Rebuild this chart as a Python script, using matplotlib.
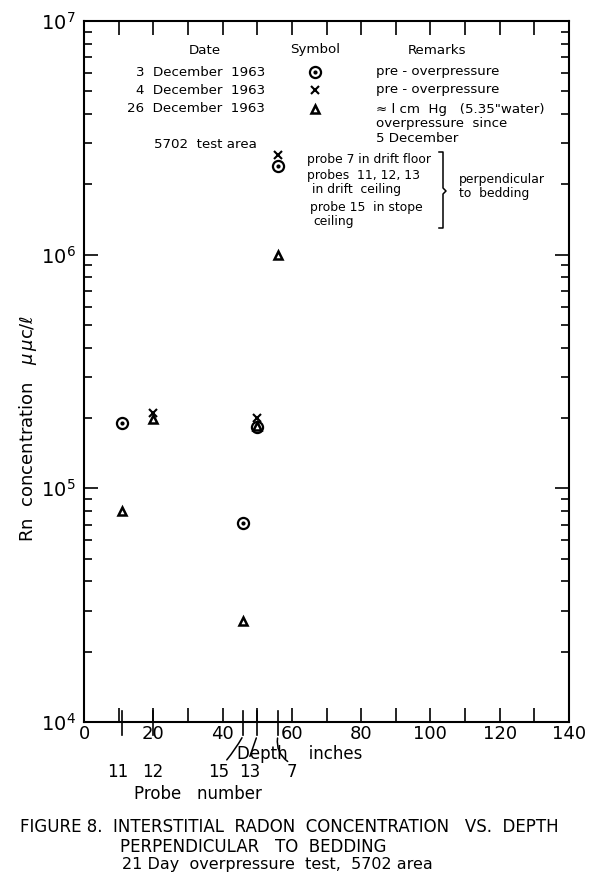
import matplotlib
matplotlib.use("Agg")
import matplotlib.pyplot as plt
from matplotlib.ticker import LogLocator, NullFormatter, FixedLocator, FixedFormatter

# ---------------- data ----------------
probe_numbers = ["11", "12", "15", "13", "7"]
probe_depths = [11, 20, 46, 50, 56]          # inches

# 3 December 1963 (circle with dot) - pre-overpressure
dec3_depth = [11, 46, 50, 56]
dec3_rn = [1.90e5, 7.1e4, 1.83e5, 2.39e6]
# 4 December 1963 (x) - pre-overpressure
dec4_depth = [20, 50, 56]
dec4_rn = [2.10e5, 2.00e5, 2.67e6]
# 26 December 1963 (triangle) - ~1 cm Hg overpressure since 5 Dec
dec26_depth = [11, 20, 46, 50, 56]
dec26_rn = [8.0e4, 1.98e5, 2.7e4, 1.85e5, 1.0e6]

x_ticks_labeled = [0, 20, 40, 60, 80, 100, 120, 140]
y_ticks = [1e4, 1e5, 1e6, 1e7]
y_tick_labels = [r"$10^4$", r"$10^5$", r"$10^6$", r"$10^7$"]

# ---------------- figure ----------------
W, H = 600, 874
fig = plt.figure(figsize=(W / 100, H / 100), dpi=100)
plt.rcParams['font.family'] = ['DejaVu Sans']

def fx(px):
    return px / W

def fy(py):
    return 1 - py / H

ax = fig.add_axes([fx(84), fy(722), fx(569) - fx(84), fy(21) - fy(722)])
ax.set_xlim(0, 140)
ax.set_ylim(1e4, 1e7)
ax.set_yscale("log")

for s in ax.spines.values():
    s.set_linewidth(1.5)

# x ticks
ax.set_xticks(x_ticks_labeled, labels=[str(v) for v in x_ticks_labeled])
ax.xaxis.set_minor_locator(FixedLocator([10, 30, 50, 70, 90, 110, 130]))
ax.tick_params(axis="x", which="both", direction="in", top=True, length=10,
               width=1.2, labelsize=13, pad=2)
# y ticks
ax.yaxis.set_major_locator(FixedLocator(y_ticks))
ax.yaxis.set_major_formatter(FixedFormatter(y_tick_labels))
ax.yaxis.set_minor_locator(LogLocator(base=10, subs=range(2, 10)))
ax.yaxis.set_minor_formatter(NullFormatter())
ax.tick_params(axis="y", which="major", direction="in", right=True, length=10,
               width=1.2, labelsize=14, pad=6)
ax.tick_params(axis="y", which="minor", direction="in", right=True, length=6,
               width=1.2)

# data
ax.plot(dec3_depth, dec3_rn, ls="none", marker="o", ms=8, mfc="white",
        mec="black", mew=1.6, zorder=3)
ax.plot(dec3_depth, dec3_rn, ls="none", marker="o", ms=2, color="black", zorder=4)
ax.plot(dec4_depth, dec4_rn, ls="none", marker="x", ms=6, color="black", mew=1.5,
        zorder=3)
ax.plot(dec26_depth, dec26_rn, ls="none", marker="^", ms=6, mfc="white",
        mec="black", mew=1.8, zorder=5)

# probe ticks crossing the depth axis
for d in probe_depths:
    ax.plot([d, d], [-0.019, 0.016], transform=ax.get_xaxis_transform(),
            color="black", lw=1.2, clip_on=False)

# probe number labels
probe_label_px = [118, 153, 219, 250, 292]
for lab, px in zip(probe_numbers, probe_label_px):
    fig.text(fx(px), fy(772), lab, ha="center", va="center", fontsize=12)

# leader lines from labels to probe ticks
axfrac_bottom = -0.019
ax.annotate("", xy=(46, axfrac_bottom), xycoords=("data", "axes fraction"),
            xytext=(225, H - 762), textcoords="figure pixels",
            arrowprops=dict(arrowstyle="-", lw=1.1, color="black",
                            connectionstyle="arc3,rad=0.05"))
ax.annotate("", xy=(50, axfrac_bottom), xycoords=("data", "axes fraction"),
            xytext=(249, H - 759), textcoords="figure pixels",
            arrowprops=dict(arrowstyle="-", lw=1.1, color="black"))
ax.annotate("", xy=(56, axfrac_bottom), xytext=(290, H - 763),
            xycoords=("data", "axes fraction"), textcoords="figure pixels",
            arrowprops=dict(arrowstyle="-", lw=1.1, color="black",
                            connectionstyle="arc3,rad=-0.35"))

fig.text(fx(300), fy(754), "Depth    inches", ha="center", va="center", fontsize=12)
fig.text(fx(198), fy(794), "Probe   number", ha="center", va="center", fontsize=12)

# y label
fig.text(fx(28), fy(428), r"Rn  concentration   $\mu\,\mu$c/ℓ", rotation=90,
         ha="center", va="center", fontsize=13)

# legend block
lfs = 9.6
fig.text(fx(205), fy(50), "Date", ha="center", va="center", fontsize=lfs)
fig.text(fx(315), fy(50), "Symbol", ha="center", va="center", fontsize=lfs)
fig.text(fx(437), fy(50), "Remarks", ha="center", va="center", fontsize=lfs)
dates = ["3  December  1963", "4  December  1963", "26  December  1963"]
rows = [72, 90, 109]
for d, r in zip(dates, rows):
    fig.text(fx(265), fy(r), d, ha="right", va="center", fontsize=lfs)
rem = ["pre - overpressure", "pre - overpressure", "≈ l cm  Hg   (5.35\"water)"]
for t, r in zip(rem, rows):
    fig.text(fx(376), fy(r), t, ha="left", va="center", fontsize=lfs)
fig.text(fx(376), fy(124), "overpressure  since", ha="left", va="center", fontsize=lfs)
fig.text(fx(376), fy(139), "5 December", ha="left", va="center", fontsize=lfs)
fig.text(fx(205), fy(145), "5702  test area", ha="center", va="center", fontsize=lfs)

# legend symbols
ax.plot([fx(315)], [fy(72)], transform=fig.transFigure, marker="o", ms=8,
        mfc="white", mec="black", mew=1.6, clip_on=False)
ax.plot([fx(315)], [fy(72)], transform=fig.transFigure, marker="o", ms=2,
        color="black", clip_on=False)
ax.plot([fx(315)], [fy(90)], transform=fig.transFigure, marker="x", ms=6,
        color="black", mew=1.5, clip_on=False)
ax.plot([fx(315)], [fy(109)], transform=fig.transFigure, marker="^", ms=6,
        mfc="white", mec="black", mew=1.8, clip_on=False)

# probe description block
sfs = 8.9
fig.text(fx(307), fy(159), "probe 7 in drift floor", ha="left", va="center", fontsize=sfs)
fig.text(fx(307), fy(176), "probes  11, 12, 13", ha="left", va="center", fontsize=sfs)
fig.text(fx(312), fy(189), "in drift  ceiling", ha="left", va="center", fontsize=sfs)
fig.text(fx(310), fy(208), "probe 15  in stope", ha="left", va="center", fontsize=sfs)
fig.text(fx(313), fy(222), "ceiling", ha="left", va="center", fontsize=sfs)
# bracket
bx = [fx(439), fx(443), fx(443), fx(446), fx(443), fx(443), fx(439)]
by = [fy(152), fy(152), fy(188), fy(191), fy(194), fy(228), fy(228)]
ax.plot(bx, by, transform=fig.transFigure, color="black", lw=1.1, clip_on=False)
fig.text(fx(459), fy(179), "perpendicular", ha="left", va="center", fontsize=sfs)
fig.text(fx(459), fy(193), "to  bedding", ha="left", va="center", fontsize=sfs)

# caption
cfs = 12
fig.text(fx(20), fy(827), "FIGURE 8.  INTERSTITIAL  RADON  CONCENTRATION   VS.  DEPTH",
         ha="left", va="center", fontsize=cfs)
fig.text(fx(120), fy(847), "PERPENDICULAR   TO  BEDDING", ha="left", va="center",
         fontsize=cfs)
fig.text(fx(122), fy(864), "21 Day  overpressure  test,  5702 area", ha="left",
         va="center", fontsize=11.5)

fig.savefig("out.png", dpi=100)
